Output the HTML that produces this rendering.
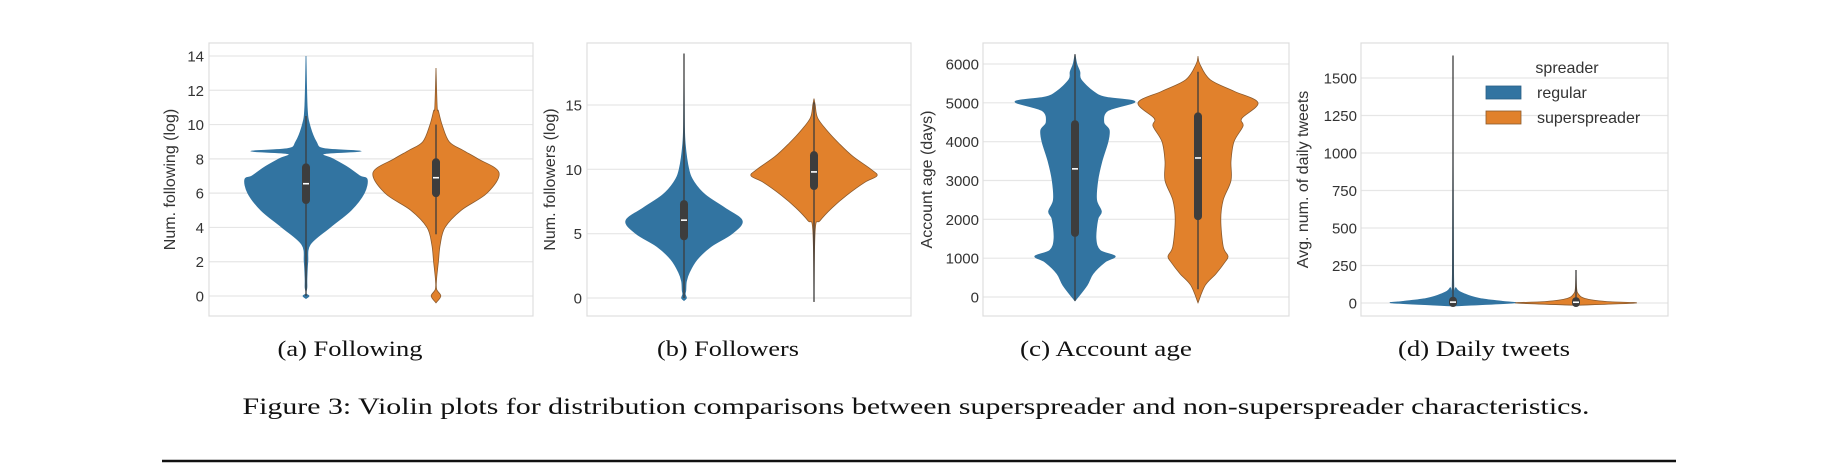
<!DOCTYPE html>
<html><head><meta charset="utf-8"><style>
html,body{margin:0;padding:0;background:#fff;width:1836px;height:470px;overflow:hidden}
svg text{font-family:"Liberation Sans",sans-serif}
</style></head><body>
<svg id="fig" width="1836" height="470" xmlns="http://www.w3.org/2000/svg"></svg>
<script>
// ---- data ----
const categories = ["regular", "superspreader"];
const colors = ["#3274a1", "#e1812c"];
const panelTitles = ["(a) Following", "(b) Followers", "(c) Account age", "(d) Daily tweets"];
const yLabels = ["Num. following (log)", "Num. followers (log)", "Account age (days)", "Avg. num. of daily tweets"];
const yTicksA = [0, 2, 4, 6, 8, 10, 12, 14];
const yTicksB = [0, 5, 10, 15];
const yTicksC = [0, 1000, 2000, 3000, 4000, 5000, 6000];
const yTicksD = [0, 250, 500, 750, 1000, 1250, 1500];
// density profiles: value levels and relative half-widths
const aRegY = [-0.15, 0, 0.15, 0.5, 1, 2, 3, 4, 5, 6, 6.8, 7, 7.5, 8, 8.3, 8.45, 8.6, 9, 10, 11, 14];
const aRegW = [0, 0.05, 0, 0.015, 0.015, 0.03, 0.07, 0.4, 0.75, 0.97, 1.02, 0.9, 0.7, 0.45, 0.3, 0.92, 0.3, 0.17, 0.06, 0.02, 0];
const aSupY = [-0.4, 0, 0.4, 1, 2, 3, 4, 5, 6, 7.2, 8, 8.5, 9, 10, 10.8, 11, 13.3];
const aSupW = [0, 0.08, 0.01, 0.01, 0.04, 0.07, 0.15, 0.42, 0.85, 1.05, 0.7, 0.45, 0.22, 0.1, 0.04, 0.02, 0];
const bRegY = [-0.2, 0, 0.3, 0.6, 1.3, 2, 3, 4, 5, 6, 7, 8, 9, 10, 12, 14, 19];
const bRegW = [0, 0.04, 0.02, 0.03, 0.04, 0.09, 0.22, 0.45, 0.8, 0.97, 0.68, 0.36, 0.17, 0.08, 0.02, 0.006, 0];
const bSupY = [-0.3, 5.3, 6, 7, 8, 9, 9.5, 10, 11, 12, 13, 14, 15, 15.5];
const bSupW = [0, 0.02, 0.1, 0.3, 0.55, 0.85, 1.05, 0.95, 0.65, 0.42, 0.22, 0.06, 0.02, 0];
const cRegY = [-100, 300, 600, 900, 1050, 1200, 1500, 2000, 2200, 2500, 3000, 3500, 4000, 4300, 4500, 4800, 5030, 5150, 5300, 5600, 5800, 6000, 6250];
const cRegW = [0, 0.2, 0.3, 0.5, 0.67, 0.42, 0.35, 0.38, 0.44, 0.36, 0.38, 0.45, 0.55, 0.57, 0.48, 0.55, 1.0, 0.5, 0.3, 0.1, 0.08, 0.03, 0];
const cSupY = [-150, 300, 600, 900, 1050, 1300, 2000, 2500, 3000, 3500, 4000, 4400, 4600, 5000, 5300, 5600, 6000, 6200];
const cSupW = [0, 0.12, 0.3, 0.45, 0.5, 0.42, 0.38, 0.42, 0.55, 0.55, 0.6, 0.75, 0.73, 1.0, 0.6, 0.2, 0.03, 0];
const dRegY = [-20, 0, 10, 30, 60, 100, 200, 1650];
const dRegW = [0, 1.0, 0.85, 0.45, 0.2, 0.05, 0.01, 0];
const dSupY = [-15, 0, 10, 30, 60, 100, 220];
const dSupW = [0, 1.0, 0.5, 0.15, 0.04, 0.01, 0];
// box stats: [whiskerLow, q1, median, q3, whiskerHigh]
const aBox = [[0, 5.6, 6.55, 7.5, 10.5], [3.6, 6.0, 6.9, 7.8, 10]];
const bBox = [[0, 4.8, 6.05, 7.3, 19], [-0.3, 8.7, 9.8, 11.1, 15.2]];
const cBox = [[-100, 1650, 3300, 4450, 6250], [200, 2080, 3580, 4650, 5800]];
const dBox = [[0, 0, 6, 15, 1650], [0, 0, 5, 12, 220]];

// ---- layout ----
const panels = [
  {x0:209,x1:533,ticks:yTicksA,v0:0,p0:296,v1:14,p1:56,cx:[306,436],vio:[[aRegY,aRegW],[aSupY,aSupW]],box:aBox,lx:175,tx:204,cap:350,capW:145},
  {x0:587,x1:911,ticks:yTicksB,v0:0,p0:298,v1:15,p1:105,cx:[684,814],vio:[[bRegY,bRegW],[bSupY,bSupW]],box:bBox,lx:555,tx:582,cap:728,capW:142},
  {x0:983,x1:1289,ticks:yTicksC,v0:0,p0:297,v1:6000,p1:64,cx:[1075,1198],vio:[[cRegY,cRegW],[cSupY,cSupW]],box:cBox,lx:932,tx:979,cap:1106,capW:172},
  {x0:1361,x1:1668,ticks:yTicksD,v0:0,p0:303,v1:1500,p1:78,cx:[1453,1576],vio:[[dRegY,dRegW],[dSupY,dSupW]],box:dBox,lx:1308,tx:1357,cap:1484,capW:172}
];
const TOP=43, BOT=316, HALF=60;
const svg=document.getElementById('fig');
const NS='http://www.w3.org/2000/svg';
function mk(tag,attrs,parent){const e=document.createElementNS(NS,tag);for(const k in attrs)e.setAttribute(k,attrs[k]);(parent||svg).appendChild(e);return e;}
function smooth(pts){let d='M'+pts[0][0]+','+pts[0][1];for(let i=0;i<pts.length-1;i++){const p0=pts[Math.max(0,i-1)],p1=pts[i],p2=pts[i+1],p3=pts[Math.min(pts.length-1,i+2)];const c1=[p1[0]+(p2[0]-p0[0])/6,p1[1]+(p2[1]-p0[1])/6],c2=[p2[0]-(p3[0]-p1[0])/6,p2[1]-(p3[1]-p1[1])/6];d+=' C'+c1[0]+','+c1[1]+' '+c2[0]+','+c2[1]+' '+p2[0]+','+p2[1];}return d;}

panels.forEach((P,pi)=>{
  const y=v=>P.p0+(v-P.v0)*(P.p1-P.p0)/(P.v1-P.v0);
  const g=mk('g',{});
  
  
  P.ticks.forEach(t=>{
    const gl=mk('line',{x1:P.x0,x2:P.x1,y1:y(t),y2:y(t),stroke:'#e6e6e6','stroke-width':1.2},g);
    
    
    const tl=mk('text',{x:P.tx,y:y(t)+5.5,'text-anchor':'end','font-size':15,fill:'#333'},g);
    
    
    tl.textContent=t;
  });
  const fr=mk('rect',{x:P.x0,y:TOP,width:P.x1-P.x0,height:BOT-TOP,fill:'none',stroke:'#dedede','stroke-width':1.2},g);
  
  
  const yl=mk('text',{x:P.lx,y:(TOP+BOT)/2,'text-anchor':'middle','font-size':16,fill:'#333',transform:'rotate(-90 '+P.lx+' '+(TOP+BOT)/2+')'},g);
  
  
  yl.textContent=yLabels[pi];
  P.vio.forEach((vw,ci)=>{
    const [ys,ws]=vw, cx=P.cx[ci];
    const right=ys.map((v,i)=>[cx+ws[i]*HALF,y(v)]);
    const left=ys.map((v,i)=>[cx-ws[i]*HALF,y(v)]).reverse();
    const d=smooth(right)+' L'+smooth(left).slice(1)+' Z';
    const vp=mk('path',{d:d,fill:colors[ci],stroke:ci?'#8a5a2e':'#3274a1','stroke-width':0.8},g);
    
    
    const b=P.box[ci];
    const wl=mk('line',{x1:cx,x2:cx,y1:y(b[0]),y2:y(b[4]),stroke:'#3d3d3d','stroke-width':1.3},g);
    
    
    const bx=mk('line',{x1:cx,x2:cx,y1:y(b[1]),y2:y(b[3]),stroke:'#3d3d3d','stroke-width':8,'stroke-linecap':'round'},g);
    
    
    const md=mk('line',{x1:cx-3,x2:cx+3,y1:y(b[2]),y2:y(b[2]),stroke:'#fff','stroke-width':1.6},g);
    
    
  });
  const cp=mk('text',{x:P.cap,y:356,'text-anchor':'middle','font-size':22,fill:'#111',textLength:P.capW,lengthAdjust:'spacingAndGlyphs',style:'font-family:"Liberation Serif",serif'},g);
  
  
  cp.textContent=panelTitles[pi];
});

// legend
const lg=mk('g',{});


const lt=mk('text',{x:1567,y:73,'text-anchor':'middle','font-size':16,fill:'#333'},lg);


lt.textContent='spreader';
categories.forEach((c,i)=>{
  const r=mk('rect',{x:1486,y:86+i*25,width:35,height:13,fill:colors[i],stroke:i?'#8a5a2e':'#2a5f86','stroke-width':0.8},lg);
  
  
  const t=mk('text',{x:1537,y:98+i*25,'font-size':16,fill:'#333'},lg);
  
  
  t.textContent=c;
});

const fc=mk('text',{x:916,y:414,'text-anchor':'middle','font-size':23,fill:'#111',textLength:1347,lengthAdjust:'spacingAndGlyphs',style:'font-family:"Liberation Serif",serif'});


fc.textContent='Figure 3: Violin plots for distribution comparisons between superspreader and non-superspreader characteristics.';
const hr=mk('line',{x1:162,x2:1676,y1:461,y2:461,stroke:'#111','stroke-width':2.5});


</script>
</body></html>
